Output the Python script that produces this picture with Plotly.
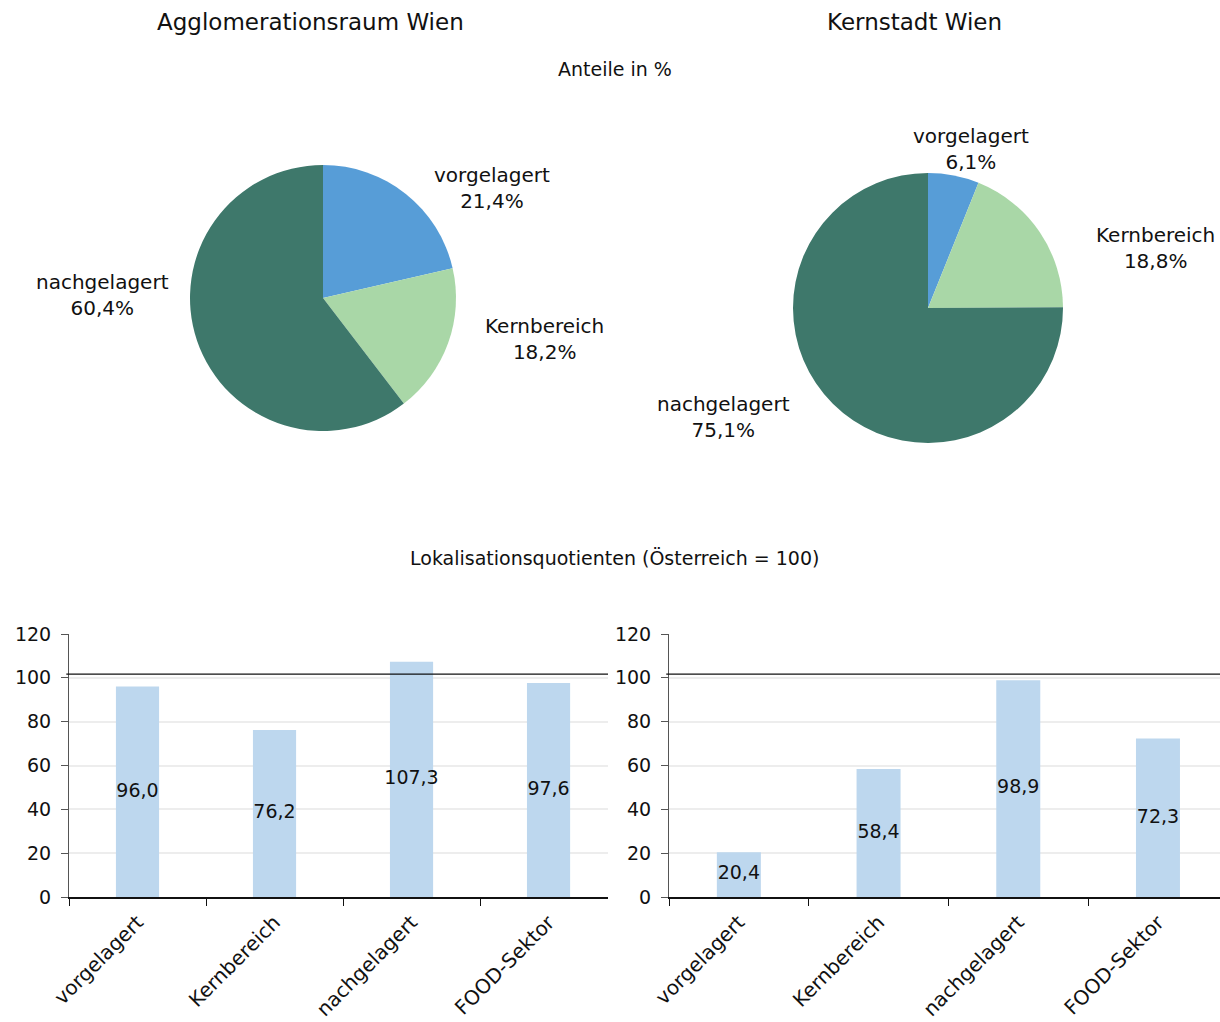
import plotly.graph_objects as go

# ---------------- data ----------------
pie_labels = ["vorgelagert", "Kernbereich", "nachgelagert"]
pie_agglo = [21.4, 18.2, 60.4]
pie_kern = [6.1, 18.8, 75.1]
pie_colors = ["#579DD7", "#A9D7A7", "#3E786B"]

bar_categories = ["vorgelagert", "Kernbereich", "nachgelagert", "FOOD-Sektor"]
lq_agglo = [96.0, 76.2, 107.3, 97.6]
lq_kern = [20.4, 58.4, 98.9, 72.3]
reference_level = 101.7

title_agglo = "Agglomerationsraum Wien"
title_kern = "Kernstadt Wien"
subtitle_pie = "Anteile in %"
subtitle_bar = "Lokalisationsquotienten (Österreich = 100)"

FONT = "DejaVu Sans"
W, H = 1220, 1022


def fmt(v):
    return f"{v:.1f}".replace(".", ",")


def px_x(x):
    return x / W


def px_y(y):
    return 1 - y / H


fig = go.Figure()

# ---------------- pies ----------------
fig.add_trace(go.Pie(
    labels=pie_labels, values=pie_agglo, sort=False, direction="clockwise",
    rotation=0, textinfo="none", hoverinfo="label+percent",
    marker=dict(colors=pie_colors, line=dict(width=0)),
    domain=dict(x=[px_x(190), px_x(456)], y=[px_y(431), px_y(165)]),
    showlegend=False,
))
fig.add_trace(go.Pie(
    labels=pie_labels, values=pie_kern, sort=False, direction="clockwise",
    rotation=0, textinfo="none", hoverinfo="label+percent",
    marker=dict(colors=pie_colors, line=dict(width=0)),
    domain=dict(x=[px_x(793), px_x(1063)], y=[px_y(443), px_y(173)]),
    showlegend=False,
))

# label placement (layout only)
agglo_label_pos = [(492, 188), (544, 339), (102, 295)]
kern_label_pos = [(971, 149), (1155, 248), (723, 417)]

annotations = []
for vals, positions in [(pie_agglo, agglo_label_pos), (pie_kern, kern_label_pos)]:
    for lab, val, (x, y) in zip(pie_labels, vals, positions):
        annotations.append(dict(x=px_x(x), y=px_y(y), xref="paper", yref="paper",
                                text=f"{lab}<br>{fmt(val)}%", showarrow=False,
                                font=dict(size=20, color="#111", family=FONT),
                                align="center", xanchor="center", yanchor="middle"))

# titles
for txt, x, y, s in [(title_agglo, 310, 22, 23), (title_kern, 914, 22, 23),
                     (subtitle_pie, 615, 69, 19), (subtitle_bar, 614, 558, 19)]:
    annotations.append(dict(x=px_x(x), y=px_y(y), xref="paper", yref="paper",
                            text=txt, showarrow=False,
                            font=dict(size=s, color="#111", family=FONT),
                            xanchor="center", yanchor="middle"))

# ---------------- bars ----------------
bar_color = "#BDD7EE"
for vals, xa, ya in [(lq_agglo, "x", "y"), (lq_kern, "x2", "y2")]:
    fig.add_trace(go.Bar(x=bar_categories, y=vals, width=0.315,
                         marker=dict(color=bar_color, line=dict(width=0)),
                         xaxis=xa, yaxis=ya, showlegend=False,
                         hoverinfo="x+y"))
    fig.add_trace(go.Scatter(x=bar_categories, y=[v / 2 for v in vals],
                             mode="text", text=[fmt(v) for v in vals],
                             textposition="middle center",
                             textfont=dict(size=19, color="#111", family=FONT),
                             xaxis=xa, yaxis=ya, showlegend=False,
                             hoverinfo="skip", cliponaxis=False))

shapes = []
for xa, ya in [("x", "y"), ("x2", "y2")]:
    shapes.append(dict(type="line", xref=f"{xa} domain", yref=ya,
                       x0=-0.005, x1=1, y0=reference_level, y1=reference_level,
                       line=dict(color="#111", width=1.2), layer="above"))

y_dom = [px_y(897), px_y(634)]
common_x = dict(type="category", categoryorder="array", categoryarray=bar_categories,
                tickson="boundaries", ticks="outside", ticklen=7, tickcolor="#111",
                tickwidth=1, tickangle=-45, showline=True, linecolor="#111",
                linewidth=1.5, showgrid=False, zeroline=False, automargin=False,
                ticklabelstandoff=4,
                tickfont=dict(size=20, color="#111", family=FONT))
common_y = dict(range=[0, 120], dtick=20, ticks="outside", ticklen=7,
                tickcolor="#555", tickwidth=1, showline=True, linecolor="#555",
                linewidth=1, showgrid=True, gridcolor="#EDEDED", gridwidth=2,
                zeroline=False, ticklabelstandoff=6, automargin=False,
                tickfont=dict(size=19, color="#111", family=FONT), domain=y_dom)

fig.update_layout(
    width=W, height=H, margin=dict(l=0, r=0, t=0, b=0, autoexpand=False),
    paper_bgcolor="white", plot_bgcolor="white",
    font=dict(family=FONT, color="#111"),
    xaxis=dict(common_x, domain=[px_x(69), px_x(608)], range=[-0.5, 3.434], anchor="y"),
    yaxis=dict(common_y, anchor="x"),
    xaxis2=dict(common_x, domain=[px_x(669), 1.0], range=[-0.5, 3.444], anchor="y2"),
    yaxis2=dict(common_y, anchor="x2"),
    annotations=annotations, shapes=shapes,
)

fig.write_html("out.html")
